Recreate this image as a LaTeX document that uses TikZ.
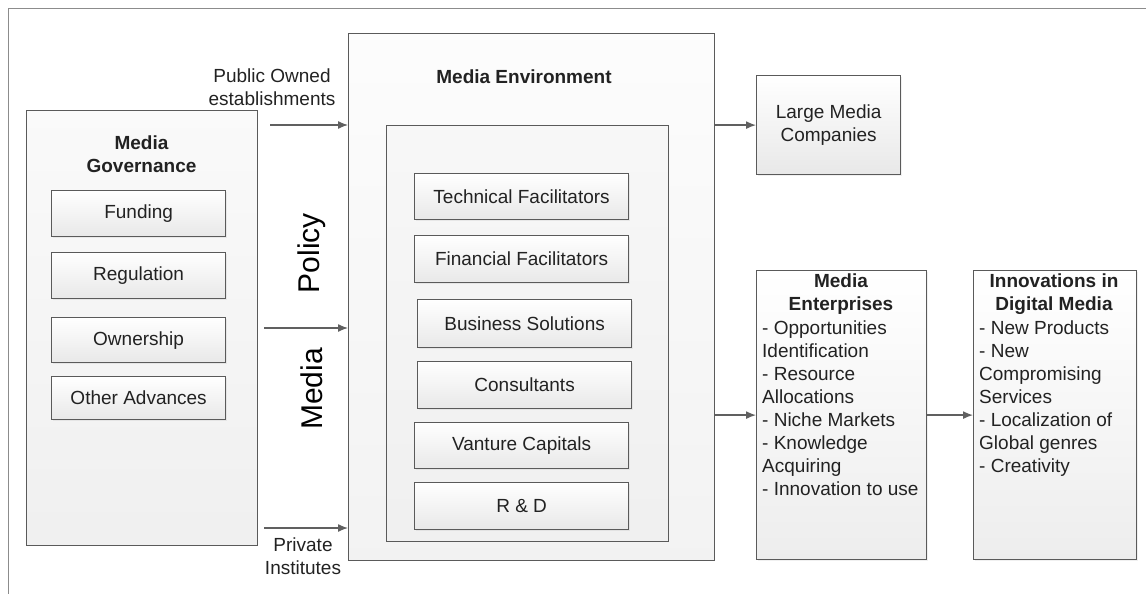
\documentclass[tikz,border=0pt]{standalone}
\usepackage{fontspec}
\setmainfont{Liberation Sans}
\usetikzlibrary{arrows.meta,shadows}
\definecolor{edge}{HTML}{5A5A5A}
\definecolor{ink}{HTML}{222222}
\definecolor{arrowc}{HTML}{606060}
\begin{document}
\begin{tikzpicture}[x=1pt,y=-1pt,
  txt/.style={font=\fontsize{19}{23}\selectfont, text=ink, inner sep=0pt},
  bold/.style={font=\fontsize{19}{23}\selectfont\bfseries, text=ink, inner sep=0pt, align=center},
  big/.style={font=\fontsize{30}{34}\selectfont, text=black, inner sep=0pt, rotate=90},
  panel/.style={draw=edge, line width=1.2pt, anchor=north west, inner sep=0pt, top color=black!2, bottom color=black!6},
  item/.style={draw=edge, line width=1.2pt, anchor=north west, inner sep=0pt, align=center,
     top color=white, bottom color=black!9, font=\fontsize{19}{23}\selectfont, text=ink,
     drop shadow={opacity=0.12, shadow xshift=1.5pt, shadow yshift=-1.5pt}},
  arr/.style={draw=arrowc, line width=1.3pt, -{Latex[length=10pt,width=8pt]}}
]
\useasboundingbox (0,0) rectangle (1146,594);
\draw[draw=black!45, line width=1pt] (8,594) -- (8,9) -- (1146,9);

% Media Governance
\node[panel, minimum width=231pt, minimum height=435pt] (mg) at (26,110) {};
\node[bold] (mgt) at (141.5,154) {Media\\Governance};
\node[item, minimum width=174pt, minimum height=46pt] (fund) at (51,190) {Funding};
\node[item, minimum width=174pt, minimum height=46pt] (reg) at (51,252) {Regulation};
\node[item, minimum width=174pt, minimum height=45pt] (own) at (51,317) {Ownership};
\node[item, minimum width=174pt, minimum height=43pt] (oth) at (51,376) {Other Advances};

% Media Environment
\node[panel, minimum width=366pt, minimum height=527pt, top color=black!1, bottom color=black!5] (me) at (348,33) {};
\node[bold] (met) at (524,77) {Media Environment};
\node[panel, minimum width=282pt, minimum height=416pt, top color=black!3, bottom color=black!6] (inner) at (386,125) {};
\node[item, minimum width=214pt, minimum height=46pt] (tf) at (414,173) {Technical Facilitators};
\node[item, minimum width=214pt, minimum height=47pt] (ff) at (414,235) {Financial Facilitators};
\node[item, minimum width=214pt, minimum height=48pt] (bs) at (417,299) {Business Solutions};
\node[item, minimum width=214pt, minimum height=47pt] (cons) at (417,361) {Consultants};
\node[item, minimum width=214pt, minimum height=46pt] (vc) at (414,422) {Vanture Capitals};
\node[item, minimum width=214pt, minimum height=47pt] (rd) at (414,482) {R \& D};

% left labels and arrows
\node[txt, align=center] (pub) at (272,87) {Public Owned\\establishments};
\node[txt, align=center] (priv) at (303,556) {Private\\Institutes};
\node[big] (pol) at (312,253) {Policy};
\node[big] (med) at (312,389) {Media};
\coordinate (s1) at (270,125);
\coordinate (s2) at (264,328);
\coordinate (s3) at (264,528);
\draw[arr] (s1) -- (s1 -| me.west);
\draw[arr] (s2) -- (s2 -| me.west);
\draw[arr] (s3) -- (s3 -| me.west);

% right boxes
\node[item, minimum width=144pt, minimum height=99pt] (lmc) at (756,75) {Large Media\\Companies};
\node[item, minimum width=170pt, minimum height=289pt, bottom color=black!7] (ment) at (756,270) {};
\node[bold] (mentt) at (841,294) {Media\\Enterprises};
\node[txt, anchor=north west, align=left] (mentb) at (762,321) {- Opportunities\\Identification\\- Resource\\Allocations\\- Niche Markets\\- Knowledge\\Acquiring\\- Innovation to use};
\node[item, minimum width=163pt, minimum height=289pt, bottom color=black!7] (inno) at (973,270) {};
\node[bold] (innot) at (1054,294) {Innovations in\\Digital Media};
\node[txt, anchor=north west, align=left] (innob) at (979,321) {- New Products\\- New\\Compromising\\Services\\- Localization of\\Global genres\\- Creativity};

\draw[arr] (me.east |- lmc.west) -- (lmc.west);
\draw[arr] (me.east |- ment.west) -- (ment.west);
\draw[arr] (ment.east) -- (inno.west);
\end{tikzpicture}
\end{document}
